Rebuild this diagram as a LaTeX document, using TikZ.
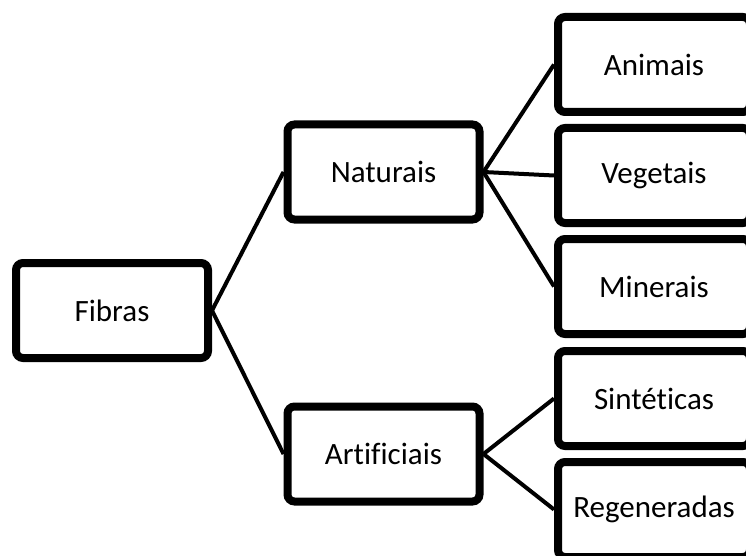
\documentclass[tikz,border=0pt]{standalone}
\usepackage{fontspec}
\setmainfont[Ligatures={NoCommon}]{Carlito}
\usetikzlibrary{shadows}
\begin{document}
\begin{tikzpicture}[x=1pt,y=-1pt,
  box/.style={draw=black, line width=8pt, fill=white, rounded corners=7pt,
    minimum width=192pt, minimum height=95pt, inner sep=0pt,
    font=\fontsize{31}{37}\selectfont,
    drop shadow={shadow xshift=1.5pt, shadow yshift=-2.5pt, opacity=0.3, fill=black}},
  link/.style={draw=black, line width=4pt}]
\useasboundingbox (0,0) rectangle (746,556);
\node[box] (fib) at (112,310.5) {Fibras};
\node[box] (nat) at (383.5,172) {Naturais};
\node[box] (art) at (383.5,454) {Artificiais};
\node[box] (ani) at (654,64.5) {Animais};
\node[box] (veg) at (654,175.5) {Vegetais};
\node[box] (min) at (654,286.5) {Minerais};
\node[box] (sin) at (654,398.5) {Sintéticas};
\node[box] (reg) at (654,509.5) {Regeneradas};
\draw[link] (fib.east) -- (nat.west);
\draw[link] (fib.east) -- (art.west);
\draw[link] (nat.east) -- (ani.west);
\draw[link] (nat.east) -- (veg.west);
\draw[link] (nat.east) -- (min.west);
\draw[link] (art.east) -- (sin.west);
\draw[link] (art.east) -- (reg.west);
\end{tikzpicture}
\end{document}
